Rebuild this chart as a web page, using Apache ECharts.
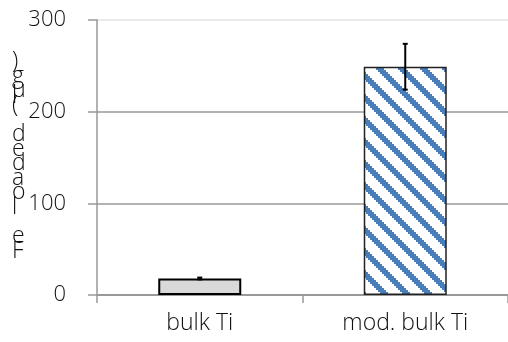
<!DOCTYPE html>
<html>
<head>
<meta charset="utf-8">
<script src="https://cdn.jsdelivr.net/npm/echarts@6/dist/echarts.min.js"></script>
<style>
html,body{margin:0;padding:0;background:#fff;}
#chart{width:508px;height:342px;}
</style>
</head>
<body>
<div id="chart"></div>
<script>
const categories = ['bulk Ti', 'mod. bulk Ti'];
const values = [18, 249];
const errors = [1, 25];
const yTicks = [0, 100, 200, 300];
const yTitle = 'Fe loaded (µg)';

// diagonal hatch pattern
function makePattern() {
  const P = 22, B = 2;
  const c = document.createElement('canvas');
  c.width = P; c.height = P;
  const ctx = c.getContext('2d');
  ctx.fillStyle = '#ffffff';
  ctx.fillRect(0, 0, P, P);
  ctx.fillStyle = '#4a7ebb';
  const n = P / B;
  for (let by = 0; by < n; by++) {
    for (let bx = 0; bx < n; bx++) {
      const d = ((bx - by) % n + n) % n;
      if (d < 4) ctx.fillRect(bx * B, by * B, B, B);
    }
  }
  return c;
}

const chart = echarts.init(document.getElementById('chart'), null, {renderer: 'canvas'});
const font = 'Open Sans';

const option = {
  animation: false,
  backgroundColor: '#ffffff',
  grid: {left: 97, right: 0, top: 20, bottom: 47},
  xAxis: {
    type: 'category',
    data: categories,
    axisLine: {show: true, lineStyle: {color: '#999', width: 2}},
    axisTick: {show: true, length: 8, lineStyle: {color: '#999', width: 1.5}},
    axisLabel: {fontSize: 23, fontFamily: font, fontWeight: 300, color: '#111', margin: 17}
  },
  yAxis: {
    type: 'value',
    min: yTicks[0],
    max: yTicks[yTicks.length - 1],
    interval: 100,
    axisLine: {show: true, lineStyle: {color: '#999', width: 1.5}},
    axisTick: {show: true, length: 9, lineStyle: {color: '#999', width: 1.5}},
    axisLabel: {fontSize: 22, fontFamily: font, fontWeight: 300, color: '#111', margin: 31},
    splitLine: {show: true, lineStyle: {color: ['#999', '#999', '#999', '#e3e3e3'], width: 1.5}}
  },
  graphic: [{
    type: 'text',
    left: 12,
    top: 50,
    style: {
      text: yTitle.split('').reverse().join('\n'),
      font: '300 23px "Open Sans"',
      lineHeight: 14.6,
      fill: '#111',
      align: 'center'
    }
  }],
  series: [
    {
      type: 'bar',
      barWidth: 83,
      data: values.map((v, i) => ({
        value: v,
        itemStyle: i === 0
          ? {color: '#d9d9d9', borderColor: '#000', borderWidth: 2}
          : {color: {image: makePattern(), repeat: 'repeat'}, borderColor: '#222', borderWidth: 1.5}
      }))
    },
    {
      type: 'custom',
      z: 5,
      data: categories.map((c, i) => [i, values[i], errors[i]]),
      renderItem: function (params, api) {
        const x = api.value(0), y = api.value(1), e = api.value(2);
        const top = api.coord([x, y + e]);
        const bot = api.coord([x, y - e]);
        const cap = 2.5;
        const st = {stroke: '#000', lineWidth: 2};
        return {
          type: 'group',
          children: [
            {type: 'line', shape: {x1: top[0], y1: top[1], x2: bot[0], y2: bot[1]}, style: st},
            {type: 'line', shape: {x1: top[0] - cap, y1: top[1], x2: top[0] + cap, y2: top[1]}, style: st},
            {type: 'line', shape: {x1: bot[0] - cap, y1: bot[1], x2: bot[0] + cap, y2: bot[1]}, style: st}
          ]
        };
      }
    }
  ]
};
chart.setOption(option);
</script>
</body>
</html>
